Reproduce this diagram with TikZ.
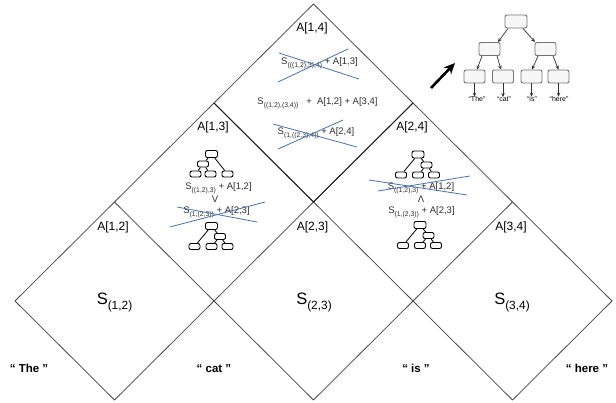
\documentclass[tikz,border=0pt]{standalone}
\usepackage{fontspec}
\setmainfont{Liberation Sans}
\usepackage{graphicx}
\usetikzlibrary{arrows.meta}
\definecolor{strikeblue}{HTML}{4A72AA}
\definecolor{exprgray}{HTML}{2E2E2E}
% lowered, reduced subscript used for the span labels
\newcommand{\lsub}[1]{\raisebox{-0.55ex}{\scalebox{0.72}{#1}}}

\tikzset{
  treeedge/.style={draw=black,line width=0.8pt},
  tbox/.style={draw=black,line width=0.9pt,rounded corners=2pt,fill=white,
               minimum width=11pt,minimum height=6pt,inner sep=0pt},
  troot/.style={tbox,minimum width=12pt,minimum height=7pt},
  % small tree icon ((1,2),3)
  lefttree/.pic={
    \node[troot] (-r) at (0,0) {};
    \node[tbox] (-m) at (-8.5,10) {};
    \node[tbox] (-a) at (-16,20) {};
    \node[tbox] (-b) at (-1,20) {};
    \node[tbox] (-c) at (16,20) {};
    \draw[treeedge] (-r) -- (-m) (-r) -- (-c) (-m) -- (-a) (-m) -- (-b);
  },
  % small tree icon (1,(2,3))
  righttree/.pic={
    \node[troot] (-r) at (0,0) {};
    \node[tbox] (-m) at (8.5,10.5) {};
    \node[tbox] (-a) at (-17,20.5) {};
    \node[tbox] (-b) at (0,20.5) {};
    \node[tbox] (-c) at (16,20.5) {};
    \draw[treeedge] (-r) -- (-m) (-r) -- (-a) (-m) -- (-b) (-m) -- (-c);
  },
}

\begin{document}
\begin{tikzpicture}[x=1pt,y=-1pt,
  gridline/.style={draw=black!72,line width=0.75pt},
  strongline/.style={draw=black!90,line width=0.9pt},
  cell/.style={inner sep=0pt,anchor=base,font=\fontsize{12}{14}\selectfont},
  span/.style={inner sep=0pt,anchor=base,font=\fontsize{16.5}{18}\selectfont},
  word/.style={inner sep=0pt,anchor=base,font=\fontsize{11.5}{13}\selectfont\bfseries},
  expr/.style={inner sep=0pt,anchor=base,text=exprgray,font=\fontsize{9.5}{11}\selectfont},
  strike/.style={draw=strikeblue,line width=0.8pt},
  bbox/.style={draw=black!55,line width=0.9pt,rounded corners=2pt,fill=black!3,
               minimum width=21pt,minimum height=13pt,inner sep=0pt},
  arr/.style={-{Stealth[length=4pt,width=3.5pt]},line width=0.7pt,draw=black!80},
  tiny/.style={inner sep=0pt,anchor=base,font=\fontsize{7}{8}\selectfont},
  bigarr/.style={-{Stealth[length=11pt,width=10pt]},line width=2.6pt},
]
\useasboundingbox (0,0) rectangle (616,403);

% lattice points of the chart
\foreach \i in {0,...,6}
  \foreach \j in {-1,0,1,2,3}
    \coordinate (g\i\j) at ({15+99.5*\i},{301-99*\j});

% chart lines
\draw[gridline] (g00) -- (g33);
\draw[gridline] (g1-1) -- (g42);
\draw[gridline] (g3-1) -- (g51);
\draw[gridline] (g5-1) -- (g60);
\draw[gridline] (g33) -- (g60);
\draw[gridline] (g22) -- (g5-1);
\draw[gridline] (g11) -- (g3-1);
\draw[gridline] (g00) -- (g1-1);
\draw[strongline] (g22) -- (g31) -- (g42);

% cell labels
\node[cell] (a12) at (113,231) {A[1,2]};
\node[cell] (a23) at (312.5,231) {A[2,3]};
\node[cell] (a34) at (511,231) {A[3,4]};
\node[cell] (a13) at (213,131) {A[1,3]};
\node[cell] (a24) at (412,131) {A[2,4]};
\node[cell] (a14) at (312,32) {A[1,4]};

% spans of two words
\node[span] (s12) at (114.5,305) {S\lsub{(1,2)}};
\node[span] (s23) at (314,305) {S\lsub{(2,3)}};
\node[span] (s34) at (512,305) {S\lsub{(3,4)}};

% words
\node[word] (w1) at (29,373) {“ The ”};
\node[word] (w2) at (214,373) {“ cat ”};
\node[word] (w3) at (416,373) {“ is ”};
\node[word] (w4) at (587,373) {“ here ”};

% cell A[1,4]
\node[expr] (e14a) at (319.5,65) {S\lsub{(((1,2),3),4)}~+~A[1,3]};
\node[expr] (e14b) at (317.5,105) {S\lsub{((1,2),(3,4))}\ \ \ +\ \ A[1,2]~+~A[3,4]};
\node[expr] (e14c) at (316,135) {S\lsub{(1,((2,3),4))}~+~A[2,4]};
\draw[strike] (279,53) -- (359,79);
\draw[strike] (278,82) -- (348,49);
\draw[strike] (273,124) -- (357,147);
\draw[strike] (278,149) -- (343,120);

% cell A[1,3]
\pic (t13a) at (211.5,154) {lefttree};
\node[expr] (e13a) at (218.5,190) {S\lsub{((1,2),3)}~+~A[1,2]};
\node[expr] (v13) at (215,203) {V};
\node[expr] (e13b) at (216.5,214) {S\lsub{(1,(2,3))}~+~A[2,3]};
\draw[strike] (170,227) -- (265,202);
\draw[strike] (177,207) -- (257,222);
\pic (t13b) at (211.5,226) {righttree};

% cell A[2,4]
\pic (t24a) at (418,154.5) {righttree};
\node[expr] (e24a) at (421,190) {S\lsub{((1,2),3)}~+~A[1,2]};
\node[expr] (v24) at (421,203) {Λ};
\node[expr] (e24b) at (421.5,214) {S\lsub{(1,(2,3))}~+~A[2,3]};
\draw[strike] (369,180) -- (467,195);
\draw[strike] (378,191) -- (470,176);
\pic (t24b) at (420,225) {righttree};

% parse tree in the corner
\node[bbox,minimum width=22pt] (R) at (516,21.5) {};
\node[bbox] (L) at (489.5,49) {};
\node[bbox] (Q) at (545.5,49) {};
\node[bbox] (l1) at (474.5,76.5) {};
\node[bbox] (l2) at (503,76.5) {};
\node[bbox] (l3) at (531.5,76.5) {};
\node[bbox] (l4) at (558.5,76.5) {};
\draw[arr] ([xshift=-8pt]R.south) -- ([xshift=8.5pt]L.north);
\draw[arr] ([xshift=7pt]R.south) -- ([xshift=-10.5pt]Q.north);
\draw[arr] ([xshift=-7.5pt]L.south) -- ([xshift=2.5pt]l1.north);
\draw[arr] ([xshift=7.5pt]L.south) -- ([xshift=-2pt]l2.north);
\draw[arr] ([xshift=-7.5pt]Q.south) -- ([xshift=0.5pt]l3.north);
\draw[arr] ([xshift=7.5pt]Q.south) -- (l4.north);
\node[tiny] (q1) at (477,102) {“The”};
\node[tiny] (q2) at (504,102) {“cat”};
\node[tiny] (q3) at (532,102) {“is”};
\node[tiny] (q4) at (559,102) {“here”};
\draw[arr] (l1.south) -- (l1.south |- q1.north);
\draw[arr] (l2.south) -- (l2.south |- q2.north);
\draw[arr] (l3.south) -- (l3.south |- q3.north);
\draw[arr] (l4.south) -- (l4.south |- q4.north);

% pointer to the parse tree
\coordinate (ptail) at (431,88);
\coordinate (phead) at (455,63);
\draw[bigarr] (ptail) -- (phead);
\end{tikzpicture}
\end{document}
